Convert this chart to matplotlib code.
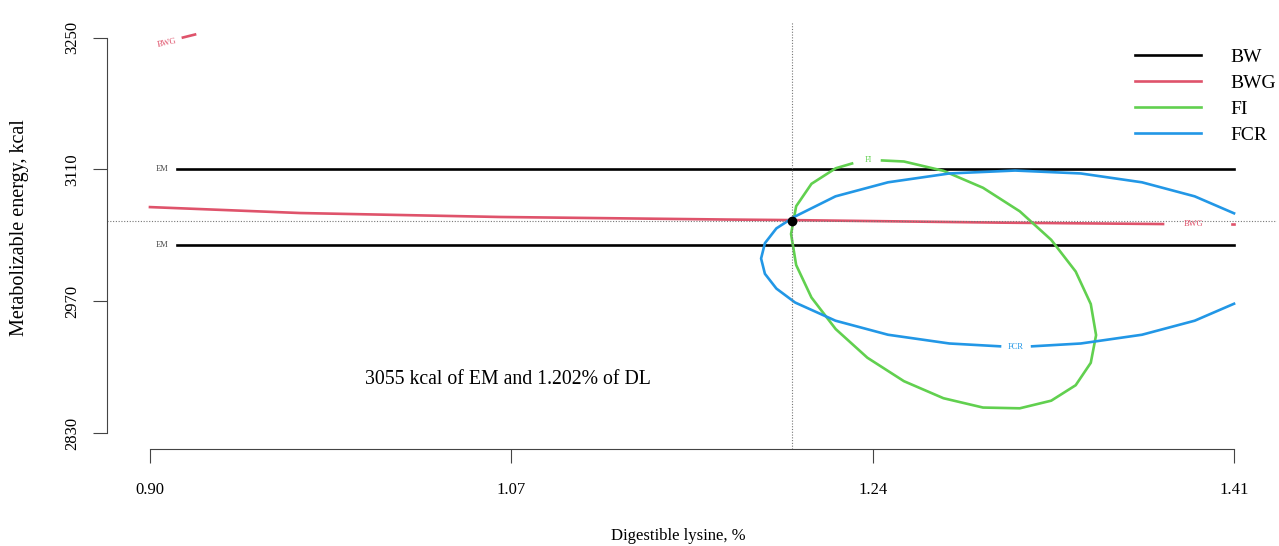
import matplotlib
matplotlib.use("Agg")
import matplotlib.pyplot as plt

plt.rcParams['font.family'] = ['Liberation Serif', 'DejaVu Serif']

# optimum
opt_x = 1.202
opt_y = 3055

# BW contours (two flat lines)
bw_levels = [3110, 3030]
bw_x = [0.9127, 1.41]

# BWG contour (main line, split by its label)
bwg_x1 = [0.90, 0.9706, 1.0647, 1.1706, 1.2016, 1.30, 1.3766]
bwg_y1 = [3070.0, 3063.7, 3059.5, 3056.8, 3056.2, 3053.5, 3052.0]
bwg_x2 = [1.4090, 1.41]
bwg_y2 = [3051.7, 3051.7]
# BWG contour piece in the top left corner
bwg_top_x = [0.9155, 0.9212]
bwg_top_y = [3250.0, 3253.2]

# FI contour (closed loop, gap at its label)
fi_x = [1.2444, 1.2547, 1.2733, 1.2919, 1.3092, 1.3240, 1.3355, 1.3426,
        1.3451, 1.3426, 1.3355, 1.3240, 1.3092, 1.2919, 1.2733, 1.2547,
        1.2375, 1.2226, 1.2112, 1.2040, 1.2016, 1.2040, 1.2112, 1.2226,
        1.2303]
fi_y = [3119.5, 3118.4, 3108.5, 3090.5, 3065.5, 3035.2, 3001.6, 2967.1,
        2934.1, 2904.7, 2880.9, 2864.5, 2856.4, 2857.2, 2867.1, 2885.2,
        2910.1, 2940.5, 2974.0, 3008.5, 3041.5, 3070.9, 3094.7, 3111.2,
        3116.3]

# FCR contour (open curve, gap at its label)
fcr_x1 = [1.41, 1.3915, 1.3667, 1.3379, 1.3070, 1.2761, 1.2472, 1.2225,
          1.2030, 1.1947, 1.1893, 1.1875, 1.1893, 1.1947, 1.2035, 1.2225,
          1.2472, 1.2761, 1.2999]
fcr_y1 = [3063.4, 3081.4, 3096.3, 3105.7, 3108.8, 3105.7, 3096.3, 3081.4,
          3059.5, 3047.4, 3031.7, 3015.4, 2999.2, 2983.5, 2968.7, 2949.4,
          2934.5, 2925.2, 2922.2]
fcr_x2 = [1.3150, 1.3379, 1.3667, 1.3915, 1.41]
fcr_y2 = [2922.2, 2925.2, 2934.5, 2949.4, 2967.4]

xticks = [0.90, 1.07, 1.24, 1.41]
yticks = [2830, 2970, 3110, 3250]

c_bw = 'black'
c_bwg = '#DF536B'
c_fi = '#61D04F'
c_fcr = '#2297E6'

fig = plt.figure(figsize=(12.79, 5.46), dpi=100)
ax = fig.add_axes([106.6 / 1279, 1 - 449 / 546, 1170.8 / 1279, 427.3 / 546])
ax.set_xlim(0.90 - 0.0204, 1.41 + 0.0204)
ax.set_ylim(2830 - 16.8, 3250 + 16.8)

lw = 1.9
for lev in bw_levels:
    ax.plot(bw_x, [lev, lev], color=c_bw, lw=lw)
    ax.text(0.9059, lev, 'EM', fontsize=6, color='#444444', ha='center', va='center')

ax.plot(bwg_x1, bwg_y1, color=c_bwg, lw=lw)
ax.plot(bwg_x2, bwg_y2, color=c_bwg, lw=lw)
ax.text(1.3907, 3051.7, 'BWG', fontsize=6, color=c_bwg, ha='center', va='center')
ax.plot(bwg_top_x, bwg_top_y, color=c_bwg, lw=lw)
ax.text(0.908, 3244.7, 'BWG', fontsize=6, color=c_bwg, ha='center', va='center', rotation=12)

ax.plot(fi_x, fi_y, color=c_fi, lw=lw)
ax.text(1.2380, 3119.8, 'FI', fontsize=6, color=c_fi, ha='center', va='center')

ax.plot(fcr_x1, fcr_y1, color=c_fcr, lw=lw)
ax.plot(fcr_x2, fcr_y2, color=c_fcr, lw=lw)
ax.text(1.3075, 2921.5, 'FCR', fontsize=6, color=c_fcr, ha='center', va='center')

ax.axvline(opt_x, color='#777777', lw=0.8, ls=(0, (1, 1.5)))
ax.axhline(opt_y, color='#777777', lw=0.8, ls=(0, (1, 1.5)))
ax.plot([opt_x], [opt_y], 'o', color='black', ms=6)

ax.text(1.0684, 2887.5, '3055 kcal of EM and 1.202% of DL', fontsize=14.2,
        ha='center', va='center')

# R-like axes
for s in ['top', 'right']:
    ax.spines[s].set_visible(False)
ax.spines['bottom'].set_bounds(0.90, 1.41)
ax.spines['left'].set_bounds(2830, 3250)
ax.spines['bottom'].set_color('#444444')
ax.spines['left'].set_color('#444444')
ax.set_xticks(xticks)
ax.set_xticklabels(['%.2f' % v for v in xticks], fontsize=12)
ax.set_yticks(yticks)
ax.set_yticklabels([str(v) for v in yticks], fontsize=12, rotation=90, va='center')
ax.tick_params(axis='both', length=10, width=0.8, color='#444444')
ax.tick_params(axis='x', pad=14)
ax.tick_params(axis='y', pad=9)

fig.text(678 / 1279, 1 - 536 / 546, 'Digestible lysine, %', fontsize=12,
         ha='center', va='center')
fig.text(20 / 1279, 1 - 228 / 546, 'Metabolizable energy, kcal', fontsize=14.5,
         ha='center', va='center', rotation=90)

handles = [plt.Line2D([], [], color=c, lw=lw) for c in [c_bw, c_bwg, c_fi, c_fcr]]
fig.legend(handles, ['BW', 'BWG', 'FI', 'FCR'], loc='upper left',
           bbox_to_anchor=(1135 / 1279, 1 - 48 / 546), frameon=False,
           fontsize=14, handlelength=3.4, handletextpad=1.5,
           labelspacing=0.44, borderpad=0, borderaxespad=0)

fig.savefig('out.png', dpi=100)
